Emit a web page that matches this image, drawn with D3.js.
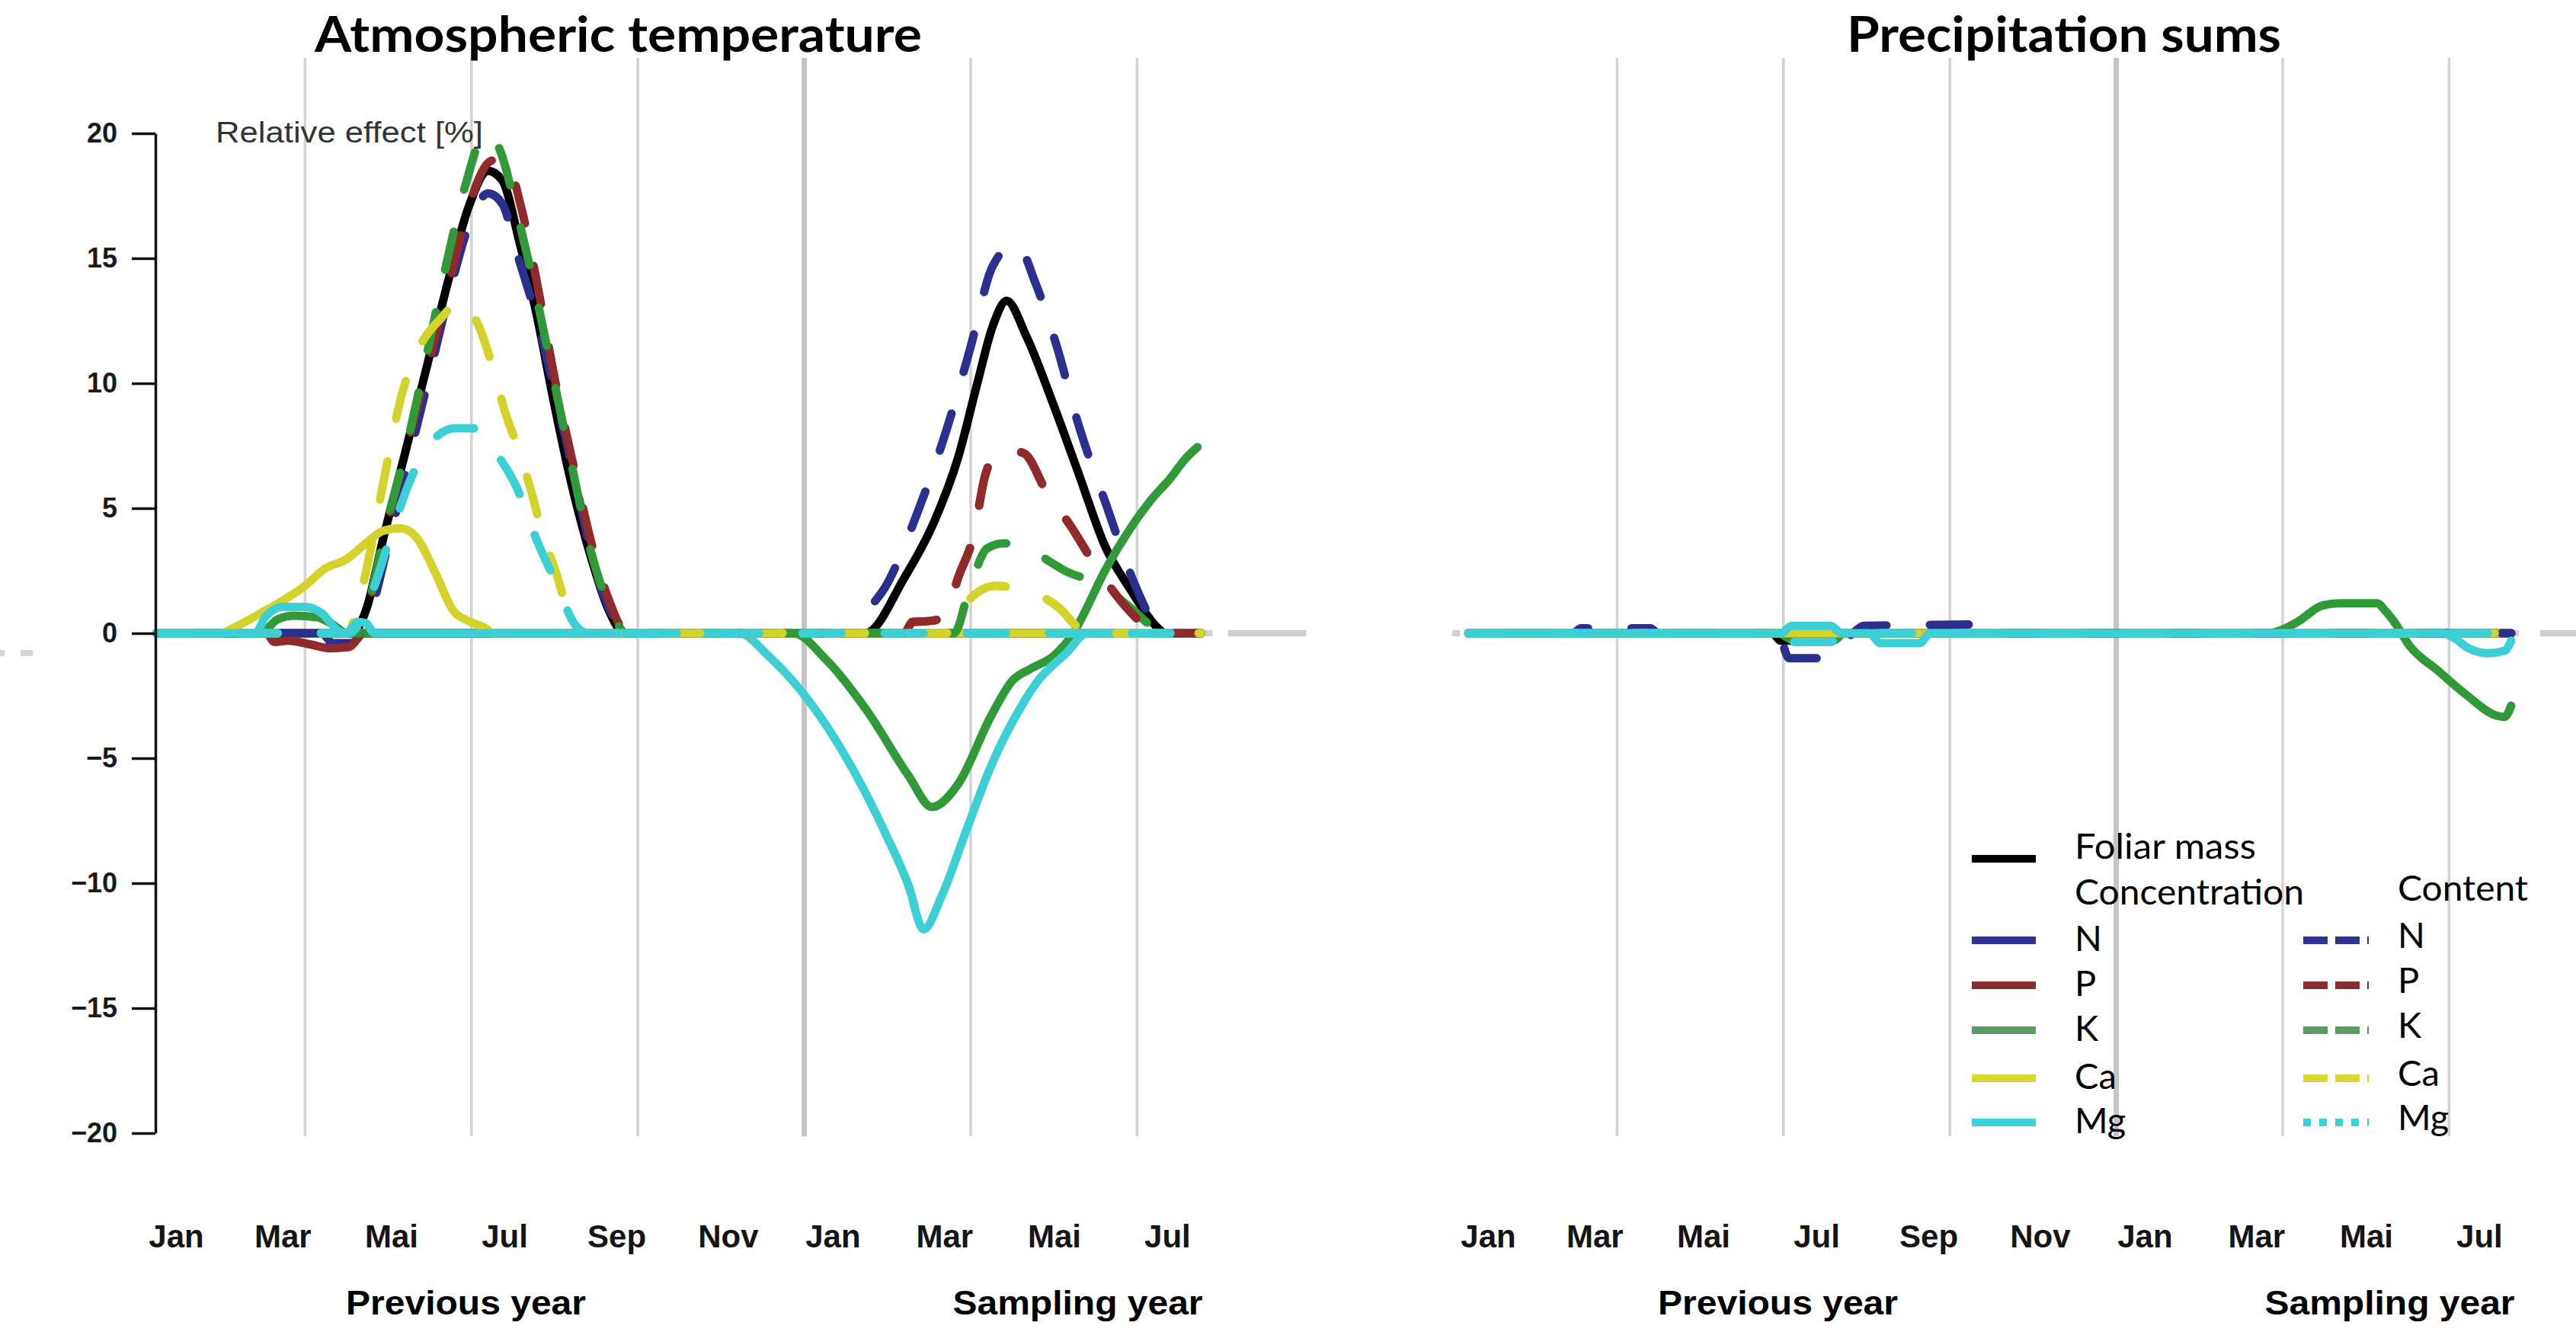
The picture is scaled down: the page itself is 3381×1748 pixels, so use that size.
<!DOCTYPE html>
<html>
<head>
<meta charset="utf-8">
<script src="https://cdn.jsdelivr.net/npm/d3@7"></script>
<style>
  body { margin: 0; background: #fff; }
  svg { display: block; }
</style>
</head>
<body>
<div id="chart"></div>
<script>
// months: 0 = start of January of the previous year, 12 = start of the sampling year
const monthLabels = ["Jan", "Mar", "Mai", "Jul", "Sep", "Nov", "Jan", "Mar", "Mai", "Jul"];
const labelMonths = [0.68, 2.6, 4.56, 6.6, 8.62, 10.63, 12.52, 14.53, 16.51, 18.55];
const gridMonths = [3, 6, 9, 12, 15, 18];
const yTicks = [20, 15, 10, 5, 0, -5, -10, -15, -20];

// Atmospheric temperature, [month, relative effect %]
const tempMass = [[0.32,0],[3.85,0],[4.11,1.0],[4.41,3.8],[4.78,7.0],[5.21,10.8],[5.58,14.1],[5.94,17.0],[6.3,18.5],[6.56,18.1],[6.86,15.7],[7.17,12.8],[7.48,9.3],[7.79,6.1],[8.16,3.0],[8.46,1.0],[8.77,0],[13.1,0],[13.8,2.2],[14.35,4.5],[14.77,7.0],[15.12,10.0],[15.4,12.3],[15.65,13.3],[16.0,11.9],[16.5,9.1],[16.96,6.3],[17.42,3.5],[17.88,1.75],[18.38,0.2],[18.5,0],[19.15,0]];
const tempConcN = [[0.32,0],[3.3,0],[3.5,-0.4],[3.85,-0.4],[4.05,0],[19.15,0]];
const tempConcP = [[0.32,0],[2.3,0],[2.45,-0.35],[2.7,-0.3],[3.1,-0.45],[3.45,-0.6],[3.8,-0.55],[3.95,-0.2],[4.05,0],[19.15,0]];
const tempConcK = [[0.32,0],[2.2,0],[2.5,0.55],[2.8,0.7],[3.2,0.65],[3.5,0.35],[3.75,0],[11.8,0],[12.39,-1.05],[13.13,-3.1],[13.88,-5.7],[14.3,-6.95],[14.77,-6.05],[15.37,-3.3],[15.75,-1.9],[16.1,-1.4],[16.5,-0.9],[16.85,0],[17.0,0.6],[17.42,2.5],[17.88,4.2],[18.24,5.3],[18.6,6.2],[18.88,7.0],[19.09,7.45]];
const tempConcCa = [[0.32,0],[1.5,0],[1.65,0.15],[2.2,0.8],[3.0,1.9],[3.37,2.6],[3.74,2.95],[4.1,3.6],[4.41,4.1],[4.72,4.2],[5.02,3.8],[5.33,2.5],[5.69,0.85],[5.94,0.5],[6.25,0.2],[6.4,0],[19.15,0]];
const tempConcMg = [[0.32,0],[2.1,0],[2.3,0.7],[2.6,1.05],[3.0,1.05],[3.3,0.8],[3.6,0.1],[3.75,0],[3.95,0.45],[4.1,0.4],[4.25,0],[10.83,0],[11.35,-0.9],[12.1,-2.75],[12.84,-5.3],[13.44,-7.9],[13.88,-10.1],[14.15,-11.85],[14.48,-10.5],[14.92,-7.9],[15.37,-5.3],[15.96,-2.75],[16.18,-2.0],[16.73,-0.78],[17.1,0],[19.15,0]];
const tempContN = [[0.32,0],[3.95,0],[4.2,1.0],[4.5,3.6],[4.85,6.8],[5.25,10.4],[5.6,13.6],[5.95,16.3],[6.3,17.6],[6.55,17.2],[6.85,15.0],[7.2,12.4],[7.55,9.2],[7.9,5.8],[8.2,2.8],[8.5,0.9],[8.8,0],[12.9,0],[13.02,0.5],[13.5,2.0],[14.07,5.0],[14.56,8.1],[14.98,11.3],[15.4,14.7],[15.82,15.6],[16.17,14.0],[16.55,11.5],[16.95,8.3],[17.45,5.1],[17.95,2.0],[18.3,0.4],[18.45,0],[19.15,0]];
const tempContP = [[0.32,0],[4.0,0],[4.2,1.6],[4.5,4.5],[4.85,7.6],[5.25,11.0],[5.65,14.5],[6.0,17.4],[6.35,18.9],[6.6,19.0],[6.9,17.0],[7.2,13.8],[7.5,10.2],[7.85,6.6],[8.2,3.3],[8.5,1.2],[8.8,0],[13.8,0],[13.95,0.45],[14.3,0.5],[14.55,0.7],[14.77,2.2],[15.05,3.9],[15.26,6.3],[15.45,7.2],[15.6,7.35],[15.96,7.2],[16.38,5.6],[16.8,4.3],[17.22,2.8],[17.78,1.1],[18.2,0.2],[18.35,0],[19.15,0]];
const tempContK = [[0.32,0],[3.95,0],[4.15,1.2],[4.45,4.2],[4.8,7.2],[5.2,11.2],[5.55,14.8],[5.9,18.0],[6.25,20.0],[6.5,19.4],[6.8,17.0],[7.1,14.2],[7.45,10.5],[7.8,6.8],[8.15,3.3],[8.5,1.0],[8.8,0],[14.7,0],[14.98,1.8],[15.3,3.4],[15.6,3.6],[16.0,3.5],[16.4,2.9],[16.7,2.5],[17.33,1.95],[17.97,0.85],[18.3,0.2],[18.45,0],[19.15,0]];
const tempContCa = [[0.32,0],[3.75,0],[4.05,2.0],[4.4,5.9],[4.75,9.6],[5.1,11.6],[5.45,12.6],[5.8,13.3],[6.13,12.3],[6.4,10.5],[6.6,8.9],[6.87,7.2],[7.1,5.5],[7.3,3.8],[7.5,2.6],[7.8,0.5],[8.0,0],[14.6,0],[14.85,1.0],[15.1,1.6],[15.45,1.9],[15.8,1.8],[16.2,1.55],[16.6,1.0],[16.9,0.3],[17.1,0],[19.15,0]];
const tempContMg = [[0.32,0],[3.8,0],[4.2,1.6],[4.6,4.3],[4.95,6.4],[5.3,7.7],[5.7,8.2],[6.1,8.2],[6.45,7.2],[6.8,5.9],[7.2,3.6],[7.55,1.9],[7.85,0.4],[8.1,0],[19.15,0]];

// Precipitation sums, [month, relative effect %]
const precMass = [[0.32,0],[5.8,0],[5.95,-0.3],[6.15,-0.3],[6.3,0],[19.12,0]];
const precConcN = [[0.32,0],[19.12,0]];
const precConcP = [[0.32,0],[19.12,0]];
const precConcK = [[0.32,0],[5.9,0],[6.2,-0.3],[6.9,-0.3],[7.1,0],[14.75,0],[15.0,0.15],[15.3,0.5],[15.7,1.1],[16.0,1.2],[16.7,1.2],[16.85,0.9],[17.02,0.43],[17.28,-0.48],[17.8,-1.5],[18.33,-2.5],[18.86,-3.3],[19.0,-3.35],[19.12,-2.9]];
const precConcCa = [[0.32,0],[19.12,0]];
const precConcMg = [[0.32,0],[5.95,0],[6.15,0.3],[6.85,0.3],[7.05,0],[7.55,0],[7.75,-0.4],[8.45,-0.4],[8.65,0],[17.9,0],[18.1,-0.2],[18.35,-0.6],[18.7,-0.8],[19.0,-0.7],[19.12,-0.3]];
const precContN = [[0.32,0],[2.2,0],[2.35,0.2],[3.6,0.2],[3.75,0],[5.9,0],[6.1,-1.0],[6.75,-1.0],[7.0,-0.5],[7.25,0],[7.45,0.3],[9.9,0.35],[10.05,0],[19.12,0]];
const precContP = [[0.32,0],[19.12,0]];
const precContK = [[0.32,0],[19.12,0]];
const precContCa = [[0.32,0],[19.12,0]];
const precContMg = [[0.32,0],[5.95,0],[6.15,-0.35],[6.85,-0.35],[7.05,0],[19.12,0]];

const legendElements = ["N", "P", "K", "Ca", "Mg"];

const colMass = "#000000";
const lineColors = { N: "#2c2f8e", P: "#902a2b", K: "#2f9a37", Ca: "#d4d32c", Mg: "#3ccfd5" };
const legendColors = { N: "#2f3494", P: "#8b2d2e", K: "#5b9b62", Ca: "#d8d72e", Mg: "#39d3d9" };

const W = 3381, H = 1748;
const svg = d3.select("#chart").append("svg").attr("width", W).attr("height", H);

const y = d3.scaleLinear().domain([-20, 20]).range([1487, 175]);
const xLeft = d3.scaleLinear().domain([0, 21]).range([182, 182 + 21 * 72.8]);
const xRight = d3.scaleLinear().domain([0, 21]).range([1904, 1904 + 21 * 72.8]);

// draw order: solid first, dashed on top, Mg concentration last
function seriesList(mass, conc, cont) {
  return [
    { values: mass, color: colMass, dashed: false },
    { values: conc.N, color: lineColors.N, dashed: false },
    { values: conc.P, color: lineColors.P, dashed: false },
    { values: conc.K, color: lineColors.K, dashed: false },
    { values: conc.Ca, color: lineColors.Ca, dashed: false },
    { values: cont.N, color: lineColors.N, dashed: true },
    { values: cont.P, color: lineColors.P, dashed: true },
    { values: cont.K, color: lineColors.K, dashed: true },
    { values: cont.Ca, color: lineColors.Ca, dashed: true },
    { values: cont.Mg, color: lineColors.Mg, dashed: true },
    { values: conc.Mg, color: lineColors.Mg, dashed: false }
  ];
}

const tempSeries = seriesList(tempMass,
  { N: tempConcN, P: tempConcP, K: tempConcK, Ca: tempConcCa, Mg: tempConcMg },
  { N: tempContN, P: tempContP, K: tempContK, Ca: tempContCa, Mg: tempContMg });
const precSeries = seriesList(precMass,
  { N: precConcN, P: precConcP, K: precConcK, Ca: precConcCa, Mg: precConcMg },
  { N: precContN, P: precContP, K: precContK, Ca: precContCa, Mg: precContMg });

function drawPanel(x, p) {
  const g = svg.append("g");

  g.selectAll("line.grid")
    .data(gridMonths)
    .join("line")
    .attr("class", "grid")
    .attr("x1", d => x(d)).attr("x2", d => x(d))
    .attr("y1", 76).attr("y2", 1491)
    .attr("stroke", d => d === 12 ? "#c4c4c4" : "#d2d2d2")
    .attr("stroke-width", d => d === 12 ? 7 : 3.5);

  // grey zero reference, only visible beyond the data
  g.selectAll("line.ref")
    .data(p.refSegments)
    .join("line")
    .attr("class", "ref")
    .attr("x1", d => x(d[0])).attr("x2", d => x(d[1]))
    .attr("y1", y(0)).attr("y2", y(0))
    .attr("stroke", "#cfcfcf")
    .attr("stroke-width", 8);

  const line = d3.line()
    .x(d => x(d[0]))
    .y(d => y(d[1]))
    .curve(d3.curveMonotoneX);

  const drawLines = (sel, data) => sel.selectAll("path")
    .data(data)
    .join("path")
    .attr("d", s => line(s.values))
    .attr("fill", "none")
    .attr("stroke", s => s.color)
    .attr("stroke-width", 11)
    .attr("stroke-linecap", "round")
    .attr("stroke-linejoin", "round")
    .attr("stroke-dasharray", s => s.dashed ? "51 57" : null);

  drawLines(g.append("g"), p.series);

  if (p.overlayFrom != null) {
    const id = "clip" + Math.round(x(0));
    svg.append("clipPath").attr("id", id)
      .append("rect")
      .attr("x", x(p.overlayFrom)).attr("y", 0)
      .attr("width", x(21) - x(p.overlayFrom)).attr("height", H);
    drawLines(g.append("g").attr("clip-path", `url(#${id})`), p.overlay);
  }

  g.selectAll("text.month")
    .data(labelMonths)
    .join("text")
    .attr("class", "month")
    .attr("x", d => x(d))
    .attr("y", 1637)
    .attr("text-anchor", "middle")
    .attr("font-family", "'Liberation Sans', Arial, sans-serif")
    .attr("font-weight", "bold")
    .attr("font-size", 42)
    .attr("fill", "#151515")
    .text((d, i) => monthLabels[i]);

  [["Previous year", 5.9, 315], ["Sampling year", 16.93, 328]].forEach(([t, m, len]) => {
    g.append("text")
      .attr("x", x(m))
      .attr("y", 1725)
      .attr("text-anchor", "middle")
      .attr("font-family", "'Liberation Sans', Arial, sans-serif")
      .attr("font-weight", "bold")
      .attr("font-size", 44)
      .attr("textLength", len)
      .attr("lengthAdjust", "spacingAndGlyphs")
      .text(t);
  });

  g.append("text")
    .attr("x", p.titleX)
    .attr("y", 68)
    .attr("font-family", "Lato, 'Open Sans', sans-serif")
    .attr("font-weight", "bold")
    .attr("font-size", 65)
    .attr("textLength", p.titleLen)
    .attr("lengthAdjust", "spacingAndGlyphs")
    .text(p.title);
}

drawPanel(xLeft, {
  title: "Atmospheric temperature", titleX: 413, titleLen: 797,
  series: tempSeries,
  refSegments: [[19.22, 19.36], [19.64, 21.05]],
  overlayFrom: 8.7,
  overlay: [tempSeries[6], tempSeries[8], tempSeries[9]]
});

drawPanel(xRight, {
  title: "Precipitation sums", titleX: 2424, titleLen: 570,
  series: precSeries,
  refSegments: [[0.03, 0.17], [19.12, 19.26], [19.64, 21]]
});

// y axis of the left panel
const yAxis = svg.append("g")
  .attr("transform", "translate(204,0)")
  .call(d3.axisLeft(y).tickValues(yTicks).tickSize(31).tickSizeOuter(0).tickPadding(19));
yAxis.select(".domain").attr("stroke", "#111").attr("stroke-width", 3.5);
yAxis.selectAll(".tick line").attr("stroke", "#111").attr("stroke-width", 3.5);
yAxis.selectAll(".tick text")
  .attr("font-family", "'Liberation Sans', Arial, sans-serif")
  .attr("font-weight", "bold")
  .attr("font-size", 36)
  .attr("fill", "#1a1a1a");

svg.append("text")
  .attr("x", 283).attr("y", 187)
  .attr("font-family", "'Liberation Sans', Arial, sans-serif")
  .attr("font-size", 38)
  .attr("fill", "#333")
  .attr("textLength", 351)
  .attr("lengthAdjust", "spacingAndGlyphs")
  .text("Relative effect [%]");

// leftover grey dashes at the far left edge
svg.append("line")
  .attr("x1", 0).attr("x2", 43).attr("y1", 857).attr("y2", 857)
  .attr("stroke", "#d4d4d4").attr("stroke-width", 8)
  .attr("stroke-dasharray", "6 21 16");

// legend
const legend = svg.append("g")
  .attr("font-family", "Lato, 'Open Sans', sans-serif")
  .attr("font-size", 47)
  .attr("fill", "#000");
const rowY = [1234, 1293, 1352, 1415, 1473];

legend.append("line")
  .attr("x1", 2588).attr("x2", 2672).attr("y1", 1127).attr("y2", 1127)
  .attr("stroke", colMass).attr("stroke-width", 10);
legend.append("text").attr("x", 2723).attr("y", 1127)
  .attr("textLength", 238).attr("lengthAdjust", "spacingAndGlyphs").text("Foliar mass");
legend.append("text").attr("x", 2723).attr("y", 1187)
  .attr("textLength", 301).attr("lengthAdjust", "spacingAndGlyphs").text("Concentration");
legend.append("text").attr("x", 3147).attr("y", 1182)
  .attr("textLength", 171).attr("lengthAdjust", "spacingAndGlyphs").text("Content");

legendElements.forEach((el, i) => {
  legend.append("line")
    .attr("x1", 2588).attr("x2", 2672).attr("y1", rowY[i]).attr("y2", rowY[i])
    .attr("stroke", legendColors[el]).attr("stroke-width", 10);
  legend.append("text").attr("x", 2723).attr("y", rowY[i] + 14).text(el);
  legend.append("line")
    .attr("x1", 3023).attr("x2", 3109).attr("y1", rowY[i]).attr("y2", rowY[i])
    .attr("stroke", legendColors[el]).attr("stroke-width", 10)
    .attr("stroke-dasharray", el === "Mg" ? "10 11" : "32 10");
  legend.append("text").attr("x", 3147).attr("y", rowY[i] + 10).text(el);
});
</script>
</body>
</html>
